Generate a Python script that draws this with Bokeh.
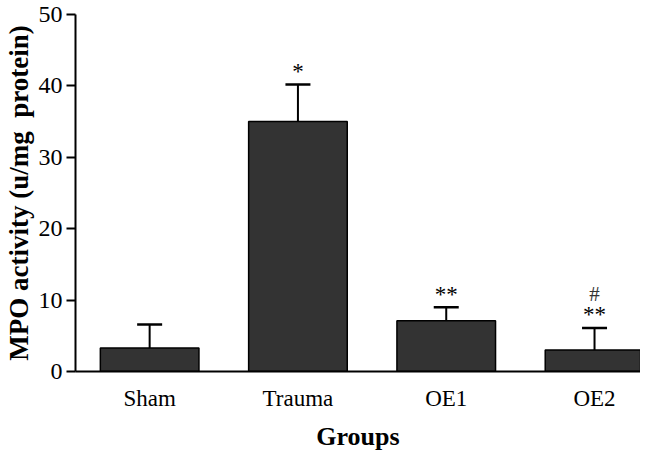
from bokeh.plotting import figure
from bokeh.models import Range1d, FixedTicker, ColumnDataSource, Whisker, TeeHead
from bokeh.core.properties import value
from bokeh.embed import file_html
from bokeh.resources import INLINE

groups = ["Sham", "Trauma", "OE1", "OE2"]
mpo = [3.3, 35.0, 7.1, 3.0]
sem = [3.3, 5.2, 1.9, 3.1]
stars = ["", "*", "**", "**"]
hashes = ["", "", "", "#"]
y_ticks = [0, 10, 20, 30, 40, 50]

xs = [i + 0.5 for i in range(len(groups))]
upper = [m + s for m, s in zip(mpo, sem)]

src = ColumnDataSource(dict(x=xs, top=mpo, upper=upper, stars=stars, hashes=hashes))

FONT = "Liberation Serif"

p = figure(width=640, height=453, output_backend="svg", toolbar_location=None,
           x_range=Range1d(0, 3.81), y_range=Range1d(0, 50),
           min_border_left=72, min_border_right=0, min_border_top=14, min_border_bottom=68)
p.outline_line_color = None
p.xgrid.visible = False
p.ygrid.visible = False
p.background_fill_color = "white"
p.border_fill_color = "white"

p.vbar(x="x", top="top", bottom=0, width=0.665, source=src,
       fill_color="#333333", line_color="black", line_width=1.5)

w = Whisker(base="x", lower="top", upper="upper", source=src,
            line_color="black", line_width=2, lower_head=None,
            upper_head=TeeHead(size=25, line_color="black", line_width=2.5))
p.add_layout(w)

p.text(x="x", y="upper", text="stars", source=src, y_offset=-13,
       text_align="center", text_baseline="middle",
       text_font=value(FONT), text_font_size="23px", text_color="black")
p.text(x="x", y="upper", text="hashes", source=src, y_offset=-34,
       text_align="center", text_baseline="middle",
       text_font=value(FONT), text_font_size="21px", text_color="#333333")

# y axis
ya = p.yaxis[0]
ya.ticker = FixedTicker(ticks=y_ticks)
ya.minor_tick_line_color = None
ya.major_tick_in = 0
ya.major_tick_out = 9
ya.major_tick_line_width = 2
ya.axis_line_width = 2
ya.major_label_text_font = FONT
ya.major_label_text_font_size = "24px"
ya.major_label_text_color = "black"
ya.major_label_standoff = 4
ya.axis_label = "MPO activity (u/mg\u00a0 protein)"
ya.axis_label_text_font = FONT
ya.axis_label_text_font_size = "27px"
ya.axis_label_text_font_style = "bold"
ya.axis_label_text_color = "black"
ya.axis_label_standoff = 2

# x axis
xa = p.xaxis[0]
xa.ticker = FixedTicker(ticks=xs)
xa.major_label_overrides = {x: g for x, g in zip(xs, groups)}
xa.minor_tick_line_color = None
xa.major_tick_line_color = None
xa.axis_line_width = 2
xa.major_label_text_font = FONT
xa.major_label_text_font_size = "23px"
xa.major_label_text_color = "black"
xa.major_label_standoff = 8
xa.axis_label = "Groups"
xa.axis_label_text_font = FONT
xa.axis_label_text_font_size = "26px"
xa.axis_label_text_font_style = "bold"
xa.axis_label_text_color = "black"
xa.axis_label_standoff = 8

open("out.html", "w").write(file_html(p, INLINE))
